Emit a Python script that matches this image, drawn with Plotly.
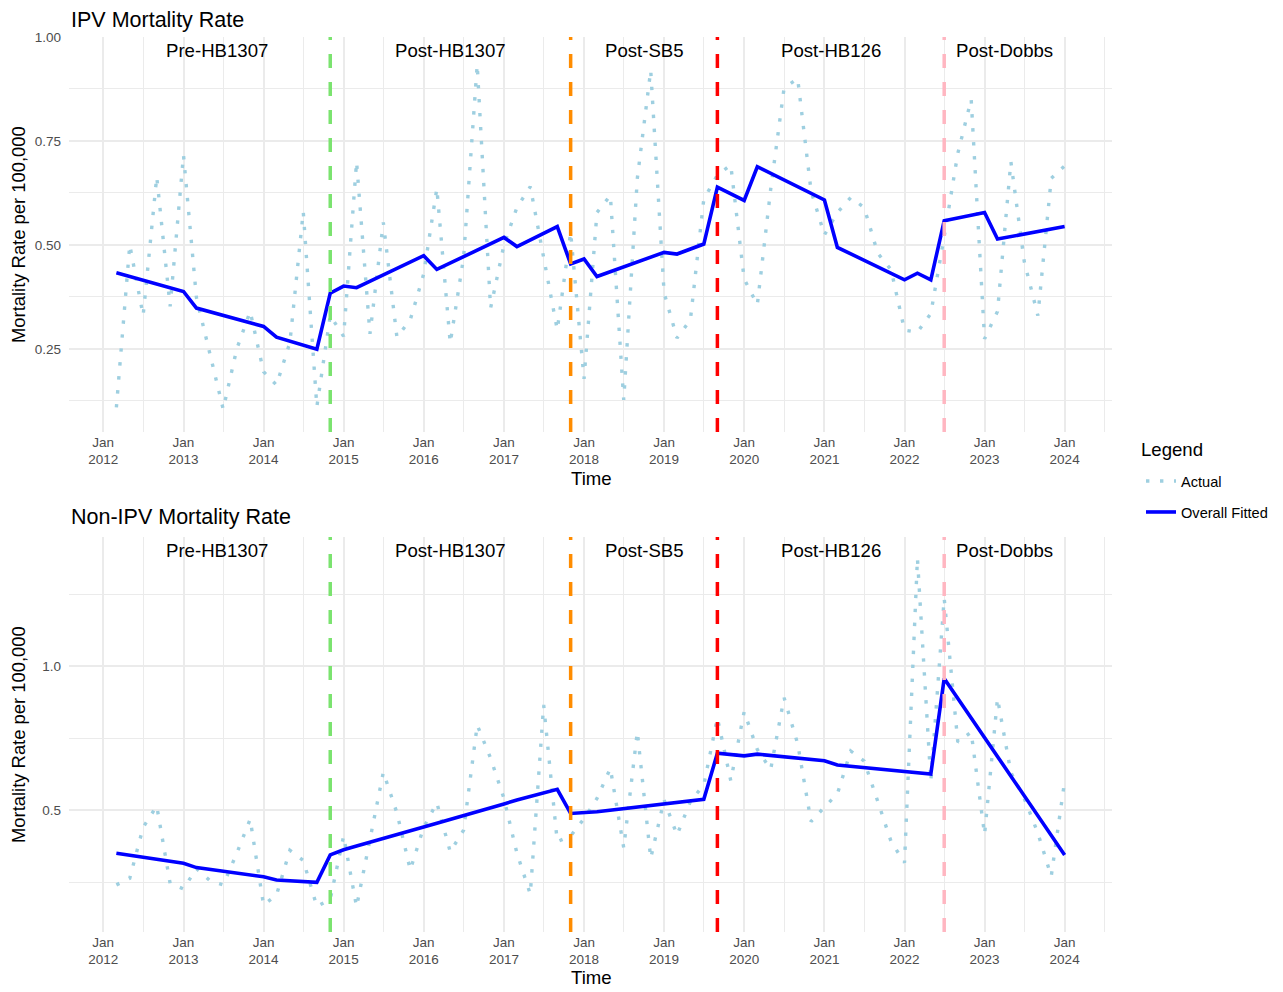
import pandas as pd
import plotly.graph_objects as go
from plotly.subplots import make_subplots

# ---------------- data ----------------
dates = pd.date_range("2012-03-01", periods=72, freq="2MS")

ipv_actual = [0.109, 0.50, 0.33, 0.664, 0.352, 0.716, 0.373, 0.24, 0.105, 0.25,
              0.34, 0.195, 0.163, 0.265, 0.58, 0.111, 0.33, 0.28, 0.70, 0.286,
              0.554, 0.278, 0.32, 0.43, 0.636, 0.264, 0.47, 0.933, 0.348, 0.50,
              0.59, 0.64, 0.468, 0.296, 0.53, 0.178, 0.578, 0.619, 0.127, 0.66,
              0.92, 0.385, 0.276, 0.32, 0.61, 0.668, 0.692, 0.418, 0.356, 0.634,
              0.877, 0.90, 0.63, 0.524, 0.578, 0.614, 0.59, 0.48, 0.44, 0.295,
              0.29, 0.335, 0.52, 0.72, 0.85, 0.274, 0.34, 0.70, 0.46, 0.33,
              0.66, 0.69]

nonipv_actual = [0.24, 0.263, 0.44, 0.514, 0.245, 0.226, 0.297, 0.255, 0.24, 0.35,
                 0.468, 0.17, 0.205, 0.36, 0.325, 0.165, 0.19, 0.41, 0.164, 0.40,
                 0.631, 0.49, 0.292, 0.44, 0.525, 0.355, 0.43, 0.795, 0.68, 0.54,
                 0.35, 0.208, 0.865, 0.39, 0.41, 0.47, 0.54, 0.645, 0.369, 0.772,
                 0.332, 0.535, 0.413, 0.53, 0.587, 0.82, 0.602, 0.841, 0.71, 0.641,
                 0.89, 0.73, 0.46, 0.51, 0.556, 0.705, 0.67, 0.53, 0.39, 0.317,
                 1.374, 0.60, 1.235, 0.736, 0.77, 0.415, 0.888, 0.63, 0.54, 0.42,
                 0.27, 0.60]

ipv_fit_dates = ["2012-03-01", "2013-01-01", "2013-03-01", "2014-01-01", "2014-03-01",
                 "2014-09-01", "2014-11-01", "2015-01-01", "2015-03-01", "2016-01-01",
                 "2016-03-01", "2017-01-01", "2017-03-01", "2017-09-01", "2017-11-01",
                 "2018-01-01", "2018-03-01", "2019-01-01", "2019-03-01", "2019-07-01",
                 "2019-09-01", "2020-01-01", "2020-03-01", "2021-01-01", "2021-03-01",
                 "2022-01-01", "2022-03-01", "2022-05-01", "2022-07-01", "2023-01-01",
                 "2023-03-01", "2024-01-01"]
ipv_fit = [0.433, 0.388, 0.348, 0.304, 0.278, 0.249, 0.384, 0.401, 0.397, 0.474,
           0.441, 0.518, 0.496, 0.544, 0.454, 0.466, 0.424, 0.482, 0.478, 0.502,
           0.639, 0.607, 0.688, 0.608, 0.494, 0.416, 0.432, 0.416, 0.558, 0.578,
           0.514, 0.544]

nonipv_fit_dates = ["2012-03-01", "2013-01-01", "2013-03-01", "2014-01-01", "2014-03-01",
                    "2014-09-01", "2014-11-01", "2015-01-01", "2015-03-01", "2016-01-01",
                    "2016-03-01", "2017-01-01", "2017-03-01", "2017-09-01", "2017-11-01",
                    "2018-03-01", "2019-01-01", "2019-03-01", "2019-07-01", "2019-09-01",
                    "2020-01-01", "2020-03-01", "2021-01-01", "2021-03-01", "2022-01-01",
                    "2022-05-01", "2022-07-01", "2024-01-01"]
nonipv_fit = [0.35, 0.315, 0.30, 0.268, 0.257, 0.249, 0.344, 0.362, 0.375, 0.439,
              0.454, 0.521, 0.535, 0.572, 0.488, 0.494, 0.520, 0.526, 0.537, 0.697,
              0.688, 0.694, 0.671, 0.656, 0.632, 0.625, 0.957, 0.344]

period_bounds = ["2012-01-01", "2014-11-01", "2017-11-01", "2019-09-01", "2022-07-01", "2024-01-01"]
period_labels = ["Pre-HB1307", "Post-HB1307", "Post-SB5", "Post-HB126", "Post-Dobbs"]
policy_dates = ["2014-11-01", "2017-11-01", "2019-09-01", "2022-07-01"]
policy_colors = ["#7BE36F", "#FF8C00", "#FF0000", "#FFB6C1"]

panel_titles = ["IPV Mortality Rate", "Non-IPV Mortality Rate"]

# ---------------- layout geometry ----------------
# page body adds an 8px offset; target coordinates below are screen pixels
OFF = 8
FONT = "Liberation Sans, Arial, Helvetica, sans-serif"
W, H = 1283 - OFF, 992 - OFF
L = 69 - OFF
R = W - (1112 - OFF)
PW = W - L - R


def px(X):
    return (X - OFF - L) / PW


def py(Y):
    return 1 - (Y - OFF) / H


top_dom = [py(432), py(37)]
bot_dom = [py(932), py(537)]

fig = make_subplots(rows=2, cols=1)

ACT_COLOR = "#9ECFE0"
FIT_COLOR = "#0000FF"

for i, (act, fd, fv) in enumerate([(ipv_actual, ipv_fit_dates, ipv_fit),
                                   (nonipv_actual, nonipv_fit_dates, nonipv_fit)]):
    row = i + 1
    fig.add_trace(go.Scatter(x=dates, y=act, mode="lines", name="Actual",
                             line=dict(color=ACT_COLOR, width=3.4, dash="3.4px,10.6px"),
                             legendgroup="a", showlegend=(i == 0)), row=row, col=1)
    fig.add_trace(go.Scatter(x=pd.to_datetime(fd), y=fv, mode="lines", name="Overall Fitted",
                             line=dict(color=FIT_COLOR, width=3.6),
                             legendgroup="b", showlegend=(i == 0)), row=row, col=1)

shapes = []
annotations = []
for i in range(2):
    xref = "x" if i == 0 else "x2"
    ydom = "y domain" if i == 0 else "y2 domain"
    for d, c in zip(policy_dates, policy_colors):
        shapes.append(dict(type="line", xref=xref, yref=ydom, x0=d, x1=d, y0=0, y1=1,
                           line=dict(color=c, width=3.5, dash="14px,14px"), layer="above"))
    bnds = pd.to_datetime(period_bounds)
    for k, lab in enumerate(period_labels):
        mid = bnds[k] + (bnds[k + 1] - bnds[k]) / 2
        annotations.append(dict(x=mid, y=0.966, xref=xref, yref=ydom, text=lab,
                                showarrow=False, font=dict(size=18.6, color="black", family=FONT),
                                xanchor="center", yanchor="middle"))

for title, ypx in zip(panel_titles, [20, 517]):
    annotations.append(dict(x=px(70), xref="paper", y=py(ypx), yref="paper",
                            text=title, showarrow=False, xanchor="left", yanchor="middle",
                            borderpad=0, font=dict(size=21.5, color="black", family=FONT)))
for ypx in [478, 977]:
    annotations.append(dict(x=px(591), xref="paper", y=py(ypx), yref="paper", text="Time",
                            showarrow=False, xanchor="center", yanchor="middle",
                            font=dict(size=18.6, color="black", family=FONT)))
for ypx in [235, 735]:
    annotations.append(dict(x=px(18), xref="paper", y=py(ypx), yref="paper",
                            text="Mortality Rate per 100,000", textangle=-90,
                            showarrow=False, xanchor="center", yanchor="middle",
                            font=dict(size=18.4, color="black", family=FONT)))
annotations.append(dict(x=px(1139), xref="paper", y=py(449), yref="paper", text="Legend",
                        showarrow=False, xanchor="left", yanchor="middle",
                        font=dict(size=18.6, color="black", family=FONT)))

GRID = "#EBEBEB"
xcommon = dict(type="date", range=["2011-07-29", "2024-08-04"], tick0="2012-01-01", dtick="M12",
               tickformat="%b<br>%Y", showgrid=True, gridcolor=GRID, gridwidth=1.6,
               zeroline=False, showline=False, ticks="", automargin=False,
               tickfont=dict(size=13.5, color="#4D4D4D", family=FONT),
               minor=dict(dtick="M6", tick0="2012-01-01", showgrid=True, gridcolor=GRID, gridwidth=0.8))

fig.update_xaxes(**xcommon)
ycommon = dict(showgrid=True, gridcolor=GRID, gridwidth=1.6, zeroline=False, ticks="",
               automargin=False, ticklabelstandoff=7,
               tickfont=dict(size=13.5, color="#4D4D4D", family=FONT))
fig.update_layout(
    yaxis=dict(domain=top_dom, range=[0.05, 1.0], tick0=0, dtick=0.25, tickformat=".2f",
               minor=dict(dtick=0.125, tick0=0, showgrid=True, gridcolor=GRID, gridwidth=0.8),
               **ycommon),
    yaxis2=dict(domain=bot_dom, range=[0.0764, 1.448], tick0=0, dtick=0.5, tickformat=".1f",
                minor=dict(dtick=0.25, tick0=0, showgrid=True, gridcolor=GRID, gridwidth=0.8),
                **ycommon),
)

fig.update_layout(
    width=W, height=H,
    margin=dict(l=L, r=R, t=0, b=0),
    paper_bgcolor="white", plot_bgcolor="white",
    font=dict(family=FONT, color="black"),
    shapes=shapes, annotations=annotations,
    legend=dict(x=px(1141), xanchor="left", y=py(465), yanchor="top",
                font=dict(size=14.6, family=FONT, color="black"),
                traceorder="grouped", tracegroupgap=9, bgcolor="rgba(0,0,0,0)"),
)

fig.write_html("out.html")
